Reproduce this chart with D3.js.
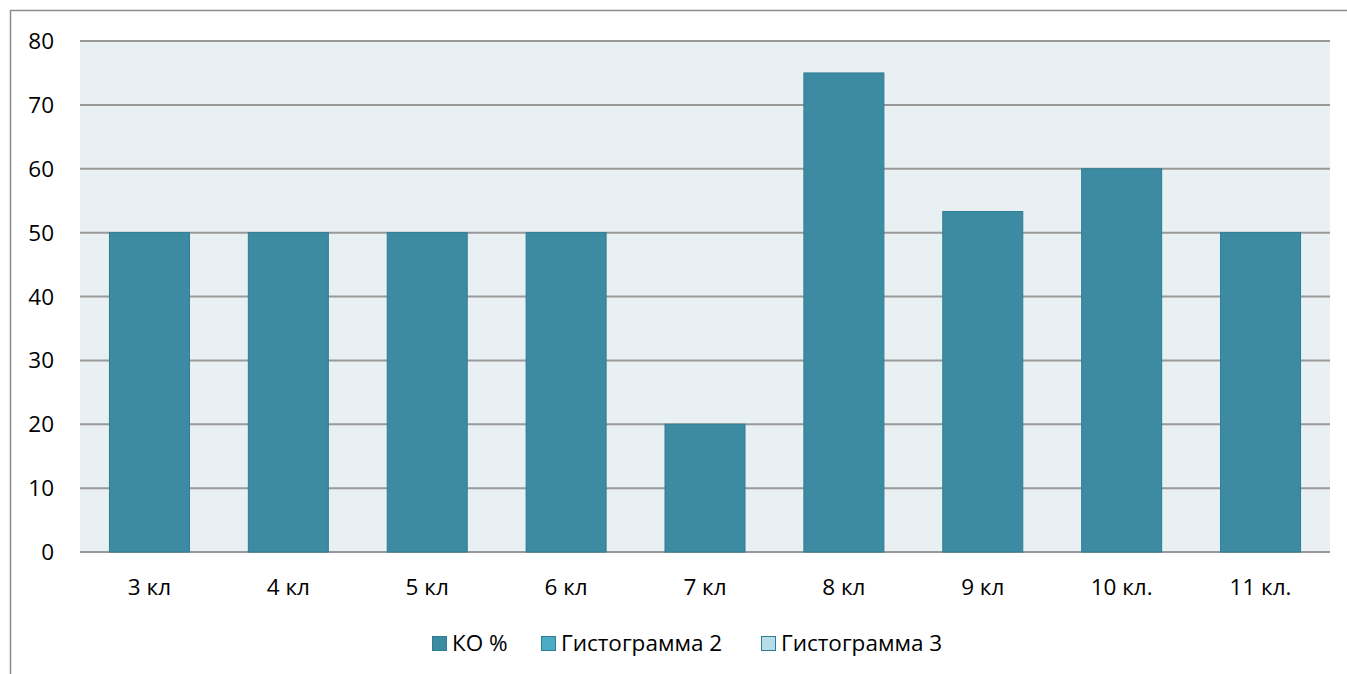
<!DOCTYPE html>
<html><head><meta charset="utf-8">
<script src="https://cdn.jsdelivr.net/npm/d3@7"></script>
<style>body{margin:0;background:#fff}svg{display:block;font-family:"Open Sans","Noto Sans",sans-serif}</style>
</head><body><svg id="c" width="1347" height="674"></svg>
<script>
const categories = ["3 кл","4 кл","5 кл","6 кл","7 кл","8 кл","9 кл","10 кл.","11 кл."];
const values = [50,50,50,50,20,75,53.3,60,50];
const yTicks = [0,10,20,30,40,50,60,70,80];
const legendLabels = ["КО %","Гистограмма 2","Гистограмма 3"];
const legendColors = ["#3d8ba3","#4bacc6","#b7dde8"];

const svg = d3.select("#c");
svg.append("rect").attr("x",10.5).attr("y",10.5).attr("width",1345).attr("height",700)
  .attr("fill","#fff").attr("stroke","#8c8c8c").attr("stroke-width",1.5);

const L=80,R=1330,T=41,B=552;
const x = d3.scaleBand().domain(categories).range([L,R]).paddingInner(0.424).paddingOuter(0.212);
const y = d3.scaleLinear().domain([0,80]).range([B,T]);
const FS = 22.5;

svg.append("rect").attr("x",L).attr("y",T).attr("width",R-L).attr("height",B-T).attr("fill","#e8f0f3");
svg.append("g").selectAll("line").data(yTicks).join("line")
  .attr("x1",L).attr("x2",R).attr("y1",d=>y(d)).attr("y2",d=>y(d))
  .attr("stroke","#999").attr("stroke-width",2);

svg.append("g").selectAll("rect").data(values).join("rect")
  .attr("x",(d,i)=>x(categories[i])).attr("width",x.bandwidth())
  .attr("y",d=>y(d)).attr("height",d=>B-y(d))
  .attr("fill","#3d8ba3").attr("stroke","#2e7d94").attr("stroke-width",1);

svg.append("g").selectAll("text").data(yTicks).join("text")
  .attr("x",54).attr("y",d=>y(d)).attr("dy","0.36em").attr("text-anchor","end")
  .attr("font-size",FS).attr("fill","#000").text(d=>d);

svg.append("g").selectAll("text").data(categories).join("text")
  .attr("x",d=>x(d)+x.bandwidth()/2).attr("y",595).attr("text-anchor","middle")
  .attr("font-size",FS).attr("fill","#000").text(d=>d);

const lx=[432,541,761];
const lg=svg.append("g");
legendLabels.forEach((t,i)=>{
  lg.append("rect").attr("x",lx[i]+0.5).attr("y",636.5).attr("width",14).attr("height",14)
    .attr("fill",legendColors[i]).attr("stroke","#2e7d94").attr("stroke-width",1);
  lg.append("text").attr("x",lx[i]+20).attr("y",651).attr("font-size",FS).attr("fill","#000").text(t);
});
</script></body></html>
